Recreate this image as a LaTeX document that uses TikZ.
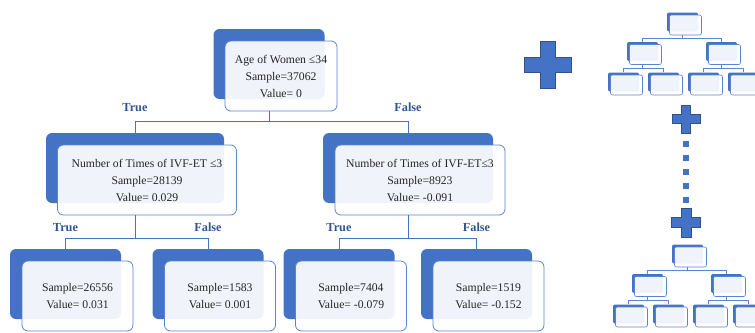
\documentclass[tikz,border=0pt]{standalone}
\usepackage{fontspec}
\setmainfont{Liberation Serif}
\usetikzlibrary{positioning, calc}

\definecolor{boxblue}{HTML}{4472C4}
\definecolor{edgeblue}{HTML}{5B85D0}
\definecolor{lblblue}{HTML}{2F5597}
\definecolor{plusedge}{HTML}{2F528F}

\tikzset{
  backbox/.style = {fill=boxblue, rounded corners=6pt, minimum height=70pt,
    inner sep=0pt},
  frontbox/.style = {draw=edgeblue, line width=0.8pt, fill=white,
    fill opacity=0.92, text opacity=1, text=black!85, rounded corners=6pt,
    minimum height=70pt, align=center, inner sep=0pt,
    font=\fontsize{11.7}{17}\selectfont},
  link/.style = {draw=boxblue, line width=0.8pt},
  branch/.style = {text=lblblue, inner sep=0pt,
    font=\fontsize{12.3}{14}\selectfont\bfseries},
  minback/.style = {fill=boxblue, rounded corners=2pt, minimum width=31pt,
    minimum height=19pt, inner sep=0pt},
  minfront/.style = {draw=edgeblue, line width=0.6pt, fill=white,
    fill opacity=0.92, rounded corners=2pt, minimum width=32pt,
    minimum height=20pt, inner sep=0pt},
  minlink/.style = {draw=edgeblue, line width=0.5pt},
  plusmark/.style = {fill=boxblue, draw=plusedge, line width=0.6pt}
}

\begin{document}
\begin{tikzpicture}[x=1pt, y=-1pt]
    \useasboundingbox (0,0) rectangle (755,332);

    % root split
    \node[backbox, minimum width=111pt] (root-b) at (269,64) {};
    \node[frontbox, minimum width=112pt] (root) at ($(root-b)+(12,12)$)
      {Age of Women ≤34\\Sample=37062\\Value= 0};

    % second level
    \node[backbox, minimum width=178pt] (left-b) at (135,168) {};
    \node[frontbox, minimum width=179pt] (left) at ($(left-b)+(12,12)$)
      {Number of Times of IVF-ET ≤3\\Sample=28139\\Value= 0.029};
    \node[backbox, minimum width=170pt] (right-b) at (408,168) {};
    \node[frontbox, minimum width=170pt] (right) at ($(right-b)+(12,12)$)
      {Number of Times of IVF-ET≤3\\Sample=8923\\Value= -0.091};

    % leaves
    \foreach \n/\x/\s/\v in {ll/65.5/26556/0.031, lr/208/1583/0.001,
        rl/339/7404/-0.079, rr/476.5/1519/-0.152}{
      \node[backbox, minimum width=111pt] (\n-b) at (\x,284) {};
      \node[frontbox, minimum width=111pt] (\n) at ($(\n-b)+(12,12)$)
        {Sample=\s\\Value= \v};
    }

    \draw[link] (root-b |- root.south) -- ++(0,10) -| (left-b.north);
    \draw[link] (root-b |- root.south) -- ++(0,10) -| (right-b.north);
    \draw[link] (left-b |- left.south) -- ++(0,23) -| (ll-b.north);
    \draw[link] (left-b |- left.south) -- ++(0,23) -| (lr-b.north);
    \draw[link] (right-b |- right.south) -- ++(0,23) -| (rl-b.north);
    \draw[link] (right-b |- right.south) -- ++(0,23) -| (rr-b.north);

    \node[branch, above = 21pt of left-b.north] (true-1) {True};
    \node[branch, above = 21pt of right-b.north] (false-1) {False};
    \node[branch, above = 17pt of ll-b.north] (true-2) {True};
    \node[branch, above = 17pt of lr-b.north] (false-2) {False};
    \node[branch, above = 17pt of rl-b.north] (true-3) {True};
    \node[branch, above = 17pt of rr-b.north] (false-3) {False};

    % plus signs and dots
    \foreach \cx/\cy/\s/\a in {547.5/65/23.5/7.5, 686/119/14/4.5,
        686/222.5/14.5/4.8}{
      \draw[plusmark] (\cx-\a,\cy-\s) -- (\cx+\a,\cy-\s) -- (\cx+\a,\cy-\a)
        -- (\cx+\s,\cy-\a) -- (\cx+\s,\cy+\a) -- (\cx+\a,\cy+\a)
        -- (\cx+\a,\cy+\s) -- (\cx-\a,\cy+\s) -- (\cx-\a,\cy+\a)
        -- (\cx-\s,\cy+\a) -- (\cx-\s,\cy-\a) -- (\cx-\a,\cy-\a) -- cycle;
    }
    \foreach \i in {0,...,4}
      \fill[boxblue] (683,141+14*\i) rectangle ++(6,6);

    % small trees
    \foreach \dx/\dy/\t in {0/0/a, 5/232/b}{
      \node[minback] (\t-root-b) at (\dx+682.5,\dy+22) {};
      \node[minfront] (\t-root) at (\dx+685.5,\dy+25) {};
      \node[minback] (\t-l-b) at (\dx+642.5,\dy+51.5) {};
      \node[minfront] (\t-l) at (\dx+645.5,\dy+54.5) {};
      \node[minback] (\t-r-b) at (\dx+721.5,\dy+51.5) {};
      \node[minfront] (\t-r) at (\dx+724.5,\dy+54.5) {};
      \foreach \k/\x in {1/623.5, 2/663.5, 3/703.5, 4/743.5}{
        \node[minback] (\t-\k-b) at (\dx+\x,\dy+82) {};
        \node[minfront] (\t-\k) at (\dx+\x+3,\dy+85) {};
      }
      \draw[minlink] (\t-root-b |- \t-root.south) -- ++(0,3) -| (\t-l-b.north);
      \draw[minlink] (\t-root-b |- \t-root.south) -- ++(0,3) -| (\t-r-b.north);
      \draw[minlink] (\t-l-b |- \t-l.south) -- ++(0,3.5) -| (\t-1-b.north);
      \draw[minlink] (\t-l-b |- \t-l.south) -- ++(0,3.5) -| (\t-2-b.north);
      \draw[minlink] (\t-r-b |- \t-r.south) -- ++(0,3.5) -| (\t-3-b.north);
      \draw[minlink] (\t-r-b |- \t-r.south) -- ++(0,3.5) -| (\t-4-b.north);
    }
\end{tikzpicture}
\end{document}
